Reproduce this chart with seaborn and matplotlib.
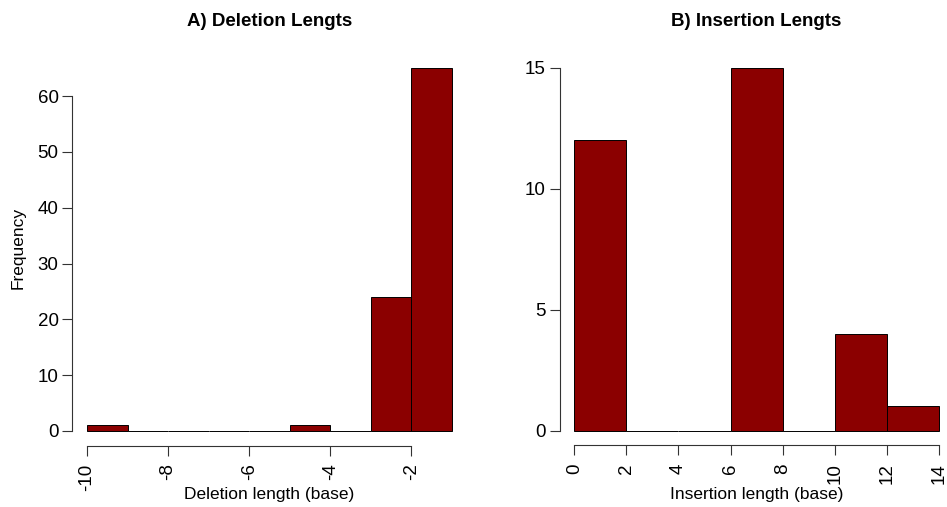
import numpy as np
import pandas as pd
import matplotlib
matplotlib.use("Agg")
import matplotlib.pyplot as plt
import seaborn as sns

# 直方图数据 (bin edges + counts)
del_edges = [-10, -9, -8, -7, -6, -5, -4, -3, -2, -1]
del_counts = [1, 0, 0, 0, 0, 1, 0, 24, 65]
ins_edges = [0, 2, 4, 6, 8, 10, 12, 14]
ins_counts = [12, 0, 0, 15, 0, 4, 1]

del_xticks = [-10, -8, -6, -4, -2]
del_yticks = [0, 10, 20, 30, 40, 50, 60]
ins_xticks = [0, 2, 4, 6, 8, 10, 12, 14]
ins_yticks = [0, 5, 10, 15]

sns.set_style("white")
plt.rcParams['font.family'] = ['Liberation Sans', 'DejaVu Sans']
plt.rcParams['axes.unicode_minus'] = False
plt.rcParams['text.color'] = 'black'
plt.rcParams['xtick.color'] = 'black'
plt.rcParams['ytick.color'] = 'black'

W, H = 947, 507
fig = plt.figure(figsize=(9.47, 5.07), dpi=100)
ax1 = fig.add_axes([72.4 / W, 61.5 / H, 394.2 / W, 391.9 / H])
ax2 = fig.add_axes([559.7 / W, 61.8 / H, 393.9 / W, 392.0 / H])


def draw(ax, edges, counts, xticks, yticks):
    e = np.array(edges, dtype=float)
    df = pd.DataFrame({"x": (e[:-1] + e[1:]) / 2, "n": counts})
    sns.histplot(data=df, x="x", weights="n", bins=list(edges), ax=ax,
                 color="#8B0000", edgecolor="black", linewidth=0.7, alpha=1)
    span = e[-1] - e[0]
    ax.set_xlim(e[0] - 0.04 * span, e[-1] + 0.04 * span)
    top = max(counts)
    ax.set_ylim(-0.04 * top, top * 1.04)
    for s in ["top", "right"]:
        ax.spines[s].set_visible(False)
    for s in ["left", "bottom"]:
        ax.spines[s].set_color("#333333")
        ax.spines[s].set_linewidth(0.8)
    ax.spines["left"].set_bounds(yticks[0], yticks[-1])
    ax.spines["bottom"].set_bounds(xticks[0], xticks[-1])
    ax.set_xticks(xticks)
    ax.set_yticks(yticks)
    ax.tick_params(axis="both", direction="out", length=7, width=0.8,
                   color="#333333", labelsize=13.5, left=True, bottom=True)
    ax.tick_params(axis="x", rotation=90, pad=6)
    ax.tick_params(axis="y", pad=3)
    ax.set_xlabel("")
    ax.set_ylabel("")


draw(ax1, del_edges, del_counts, del_xticks, del_yticks)
draw(ax2, ins_edges, ins_counts, ins_xticks, ins_yticks)

fig.text(269.5 / W, 1 - 22 / H, "A) Deletion Lengts", ha="center", va="center",
         fontsize=13.5, fontweight="bold")
fig.text(756.6 / W, 1 - 22 / H, "B) Insertion Lengts", ha="center", va="center",
         fontsize=13.5, fontweight="bold")
fig.text(269.5 / W, 1 - 495 / H, "Deletion length (base)", ha="center", va="center",
         fontsize=12.5)
fig.text(756.6 / W, 1 - 495 / H, "Insertion length (base)", ha="center", va="center",
         fontsize=12.5)
fig.text(18 / W, 1 - 248 / H, "Frequency", ha="center", va="center",
         rotation=90, fontsize=12.5)

fig.savefig("out.png", dpi=100)
